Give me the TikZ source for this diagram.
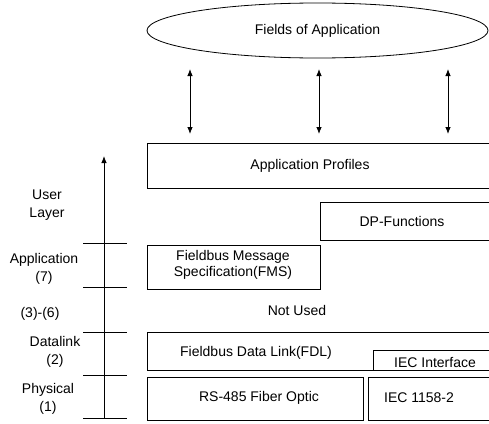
\documentclass[tikz,border=0pt]{standalone}
\usepackage{fontspec}
\setmainfont{Liberation Sans}
\usetikzlibrary{shapes.geometric,arrows.meta}
\begin{document}
\begin{tikzpicture}[x=1pt,y=-1pt,line width=0.8pt,font=\fontsize{14}{18.5}\selectfont,
    >={Latex[length=7pt,width=5.5pt]}]
  \useasboundingbox (0,0) rectangle (489,423);
  \clip (0,0) rectangle (489,423);
  % fields of application and the three links
  \node[draw,ellipse,minimum width=341pt,minimum height=55pt] (fields) at (317.5,30.5) {Fields of Application};
  \coordinate (a1) at (190,69);  \coordinate (b1) at (190,134);
  \coordinate (a2) at (319,69);  \coordinate (b2) at (319,134);
  \coordinate (a3) at (448,69);  \coordinate (b3) at (448,134);
  \draw[<->] (a1) -- (b1);
  \draw[<->] (a2) -- (b2);
  \draw[<->] (a3) -- (b3);
  % layer boxes
  \draw (147,143) rectangle (500,188);
  \node (profiles) at (310,166) {Application Profiles};
  \draw (320,202) rectangle (500,240);
  \node (dp) at (402,221) {DP-Functions};
  \draw (147,245) rectangle (320,289);
  \node[align=center,font=\fontsize{14}{15.5}\selectfont] (fms) at (233,265) {Fieldbus Message\\Specification(FMS)};
  \node (unused) at (297,310) {Not Used};
  \draw (147,332) rectangle (500,370);
  \node (fdl) at (256,353) {Fieldbus Data Link(FDL)};
  \draw (373,350) rectangle (500,370);
  \node (iecif) at (435,362) {IEC Interface};
  \draw (147,377) rectangle (363,420);
  \node (rs) at (259,398) {RS-485 Fiber Optic};
  \draw (368,377) rectangle (500,420);
  \node (iec) at (419,398) {IEC 1158-2};
  % layer axis
  \coordinate (base) at (104,418);
  \coordinate (top) at (104,156);
  \draw[->] (base) -- (top);
  \foreach \y in {243,287,332,375,418}
    \draw (83,\y) -- (127,\y);
  \node[align=center] (user) at (47,205) {User\\Layer};
  \node[align=center] (appl) at (44,269) {Application\\(7)};
  \node (mid) at (40,314) {(3)-(6)};
  \node[align=center] (dl) at (55,352) {Datalink\\(2)};
  \node[align=center] (phys) at (48,399) {Physical\\(1)};
\end{tikzpicture}
\end{document}
